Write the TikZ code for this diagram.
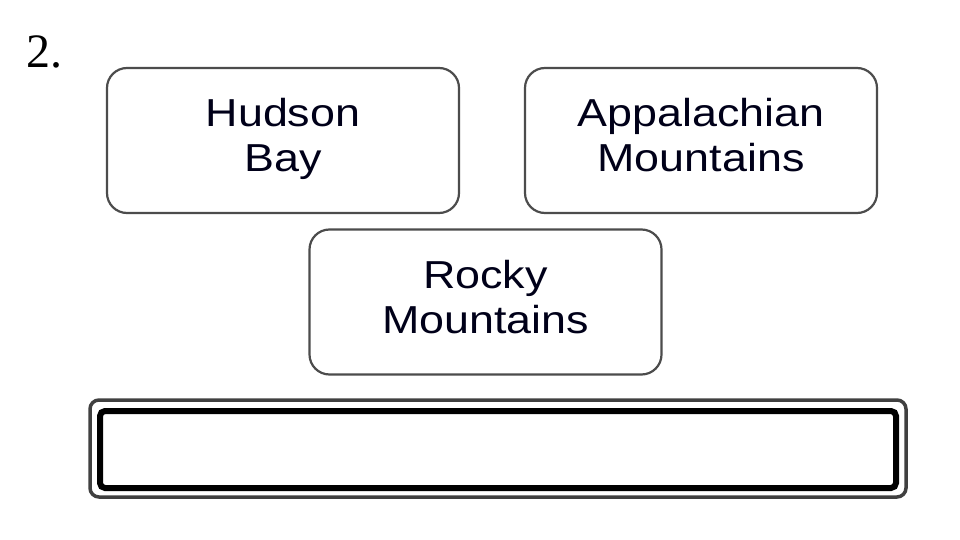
\documentclass[tikz,border=0pt]{standalone}
\usepackage{fontspec}
\setmainfont{Liberation Serif}
\newfontfamily\boxfont[FakeStretch=1.15]{Liberation Sans}
\begin{document}
\begin{tikzpicture}[x=1pt,y=-1pt,
  box/.style={draw=black!70, line width=2.2pt, rounded corners=20pt, fill=white,
    minimum width=352pt, minimum height=145pt, align=center,
    font=\boxfont\fontsize{39}{45}\selectfont, text=black!90!blue, inner sep=0pt}]
\useasboundingbox (0,0) rectangle (960,540);
\fill[white] (0,0) rectangle (960,540);
\node[anchor=base west, font=\fontsize{48}{50}\selectfont, inner sep=0pt] (num) at (26,68) {2.};
\node[box] (hudson) at (283,140.5) {\strut Hudson\\\strut Bay};
\node[box] (appal) at (701,140.5) {\strut Appalachian\\\strut Mountains};
\node[box] (rocky) at (485.5,302) {\strut Rocky\\\strut Mountains};
\draw[line width=3.5pt, draw=black!75, rounded corners=9pt] (90,400) rectangle (906,497);
\draw[line width=6pt, draw=black, rounded corners=5pt] (100,411) rectangle (896,488);
\node[inner sep=0pt, minimum width=790pt, minimum height=70pt] (answer) at (498,449.5) {};
\end{tikzpicture}
\end{document}
